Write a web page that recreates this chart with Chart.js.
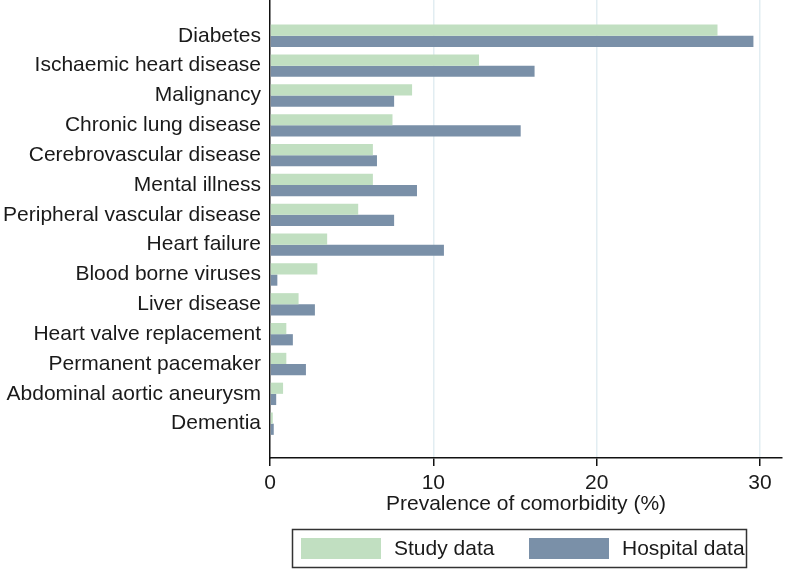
<!DOCTYPE html>
<html>
<head>
<meta charset="utf-8">
<script src="https://cdn.jsdelivr.net/npm/chart.js@4.4.1/dist/chart.umd.min.js"></script>
<style>
  html, body { margin: 0; padding: 0; background: #fff; }
  #wrap { width: 787px; height: 570px; position: relative; }
</style>
</head>
<body>
<div id="wrap"><canvas id="chart"></canvas></div>
<script>
const categories = [
  'Diabetes', 'Ischaemic heart disease', 'Malignancy', 'Chronic lung disease',
  'Cerebrovascular disease', 'Mental illness', 'Peripheral vascular disease',
  'Heart failure', 'Blood borne viruses', 'Liver disease', 'Heart valve replacement',
  'Permanent pacemaker', 'Abdominal aortic aneurysm', 'Dementia'
];
const studyData = [27.4, 12.8, 8.7, 7.5, 6.3, 6.3, 5.4, 3.5, 2.9, 1.75, 1.0, 1.0, 0.8, 0.17];
const hospitalData = [29.6, 16.2, 7.6, 15.35, 6.55, 9.0, 7.6, 10.65, 0.45, 2.75, 1.4, 2.2, 0.38, 0.23];
const xTicks = [0, 10, 20, 30];

const green = '#c1dfc1';
const blue = '#7a90a8';
const font = 'Liberation Sans, Arial, Helvetica, sans-serif';

// framed legend drawn under the axis title
const boxLegend = {
  id: 'boxLegend',
  afterDraw(chart) {
    const ctx = chart.ctx;
    const sets = chart.data.datasets;
    const frame = { x: 292.5, y: 529.5, w: 454, h: 38 };
    const swatchX = [301, 529];
    ctx.save();
    ctx.strokeStyle = '#333';
    ctx.lineWidth = 1.5;
    ctx.strokeRect(frame.x, frame.y, frame.w, frame.h);
    ctx.font = '21px ' + font;
    ctx.textBaseline = 'middle';
    sets.forEach((ds, i) => {
      ctx.fillStyle = ds.backgroundColor;
      ctx.fillRect(swatchX[i], 538, 80, 21);
      ctx.fillStyle = '#1a1a1a';
      ctx.fillText(ds.label, swatchX[i] + 93, 549);
    });
    ctx.restore();
  }
};

const ctx = document.getElementById('chart').getContext('2d');
new Chart(ctx, {
  type: 'bar',
  data: {
    datasets: [{
      label: 'Study data',
      data: studyData.map((v, i) => ({ x: v, y: i })),
      backgroundColor: green,
      categoryPercentage: 0.75,
      barPercentage: 1
    }, {
      label: 'Hospital data',
      data: hospitalData.map((v, i) => ({ x: v, y: i })),
      backgroundColor: blue,
      categoryPercentage: 0.75,
      barPercentage: 1
    }]
  },
  options: {
    indexAxis: 'y',
    responsive: true,
    maintainAspectRatio: false,
    animation: false,
    layout: { padding: { top: 0, right: 5, left: 0, bottom: 49 } },
    scales: {
      y: {
        type: 'linear',
        reverse: true,
        min: -1.2,
        max: 14.15,
        offset: false,
        afterBuildTicks: s => { s.ticks = categories.map((c, i) => ({ value: i })); },
        afterFit: s => { s.width = 270; s.paddingTop = 0; s.paddingBottom = 0; },
        grid: { display: false, drawTicks: false, offset: false },
        border: { color: '#111', width: 1.5 },
        ticks: {
          padding: 9,
          color: '#1a1a1a',
          font: { family: font, size: 21 },
          autoSkip: false,
          callback: v => categories[v]
        }
      },
      x: {
        type: 'linear',
        min: 0,
        max: 31.35,
        afterBuildTicks: s => { s.ticks = xTicks.map(v => ({ value: v })); },
        afterFit: s => { s.height = 63; },
        grid: {
          color: c => c.tick && c.tick.value === 0 ? 'rgba(0,0,0,0)' : '#e2edf2',
          tickColor: '#111',
          tickLength: 8,
          lineWidth: 1.5
        },
        border: { color: '#111', width: 1.5 },
        ticks: {
          padding: 5,
          color: '#1a1a1a',
          font: { family: font, size: 21 },
          maxRotation: 0
        },
        title: {
          display: true,
          text: 'Prevalence of comorbidity (%)',
          color: '#1a1a1a',
          font: { family: font, size: 21 },
          padding: { top: 0, bottom: 4 }
        }
      }
    },
    plugins: {
      legend: { display: false },
      tooltip: { enabled: false }
    }
  },
  plugins: [boxLegend]
});
</script>
</body>
</html>
